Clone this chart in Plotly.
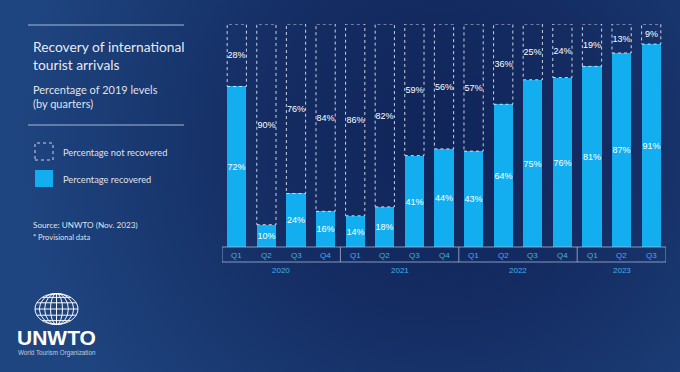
import base64
import plotly.graph_objects as go

# ---- data ----
quarters = ["Q1", "Q2", "Q3", "Q4", "Q1", "Q2", "Q3", "Q4", "Q1", "Q2", "Q3", "Q4", "Q1", "Q2", "Q3"]
years = ["2020", "2021", "2022", "2023"]
year_counts = [4, 4, 4, 3]
recovered = [72, 10, 24, 16, 14, 18, 41, 44, 43, 64, 75, 76, 81, 87, 91]
not_recovered = [28, 90, 76, 84, 86, 82, 59, 56, 57, 36, 25, 24, 19, 13, 9]

W, H = 680, 372
L, R, T, B = 222, 14, 24, 125
PW, PH = W - L - R, H - T - B


def px(x):
    return (x - L) / PW


def py(y):
    return (H - B - y) / PH


BLUE = "#12aeef"
idx = list(range(len(quarters)))
bw = 0.65
LBL = dict(color="white", size=9, family="Liberation Sans")

fig = go.Figure()
fig.add_trace(go.Bar(
    x=idx, y=recovered, width=bw, marker=dict(color=BLUE, line=dict(width=0)),
    text=[f"{v}%" for v in recovered], textposition="inside", insidetextanchor="middle",
    textangle=0, constraintext="none", textfont=LBL, cliponaxis=False,
    hoverinfo="skip", showlegend=False))
fig.add_trace(go.Bar(
    x=idx, y=not_recovered, base=recovered, width=bw,
    marker=dict(color="rgba(0,0,0,0)", line=dict(width=0)),
    text=[f"{v}%" for v in not_recovered], textposition="inside", insidetextanchor="middle",
    textangle=0, constraintext="none", textfont=LBL, cliponaxis=False,
    hoverinfo="skip", showlegend=False))

shapes = []
# dashed outlines of the not-recovered parts
for i, (r, n) in enumerate(zip(recovered, not_recovered)):
    shapes.append(dict(type="rect", xref="x", yref="y", x0=i - bw / 2, x1=i + bw / 2,
                       y0=r, y1=r + n, line=dict(color="rgba(235,240,250,0.85)", width=1, dash="dot")))

# axis label box
box_col = "rgba(170,190,220,0.75)"
yb0 = py(262)
shapes.append(dict(type="rect", xref="x", yref="paper", x0=-0.5, x1=len(quarters) - 0.5,
                   y0=yb0, y1=0, line=dict(color=box_col, width=1)))
annotations = []
start = 0
for yr, c in zip(years, year_counts):
    if start > 0:
        shapes.append(dict(type="line", xref="x", yref="paper", x0=start - 0.5, x1=start - 0.5,
                           y0=yb0, y1=0, line=dict(color=box_col, width=1)))
    annotations.append(dict(x=start + (c - 1) / 2, y=py(270), xref="x", yref="paper", text=yr,
                            showarrow=False, yanchor="middle",
                            font=dict(size=8, color="#45afe8", family="Liberation Sans")))
    start += c
for i, q in enumerate(quarters):
    annotations.append(dict(x=i, y=py(255), xref="x", yref="paper", text=q, showarrow=False, yanchor="middle",
                            font=dict(size=8, color="#45afe8", family="Liberation Sans")))

# left panel lines
for yy in (25, 125):
    shapes.append(dict(type="line", xref="paper", yref="paper", x0=px(28), x1=px(184), y0=py(yy), y1=py(yy),
                       line=dict(color="rgba(200,215,240,0.8)", width=1)))

TXT = "Lato, Open Sans, sans-serif"
annotations.append(dict(x=px(31), y=py(36), xref="paper", yref="paper", xanchor="left", yanchor="top",
                        align="left", showarrow=False, text="Recovery of international<br>tourist arrivals",
                        font=dict(size=13.8, color="rgba(255,255,255,0.92)", family=TXT)))
annotations.append(dict(x=px(31), y=py(81), xref="paper", yref="paper", xanchor="left", yanchor="top",
                        align="left", showarrow=False, text="Percentage of 2019 levels<br>(by quarters)",
                        font=dict(size=11, color="rgba(255,255,255,0.88)", family=TXT)))
# legend
shapes.append(dict(type="rect", xref="paper", yref="paper", x0=px(35), x1=px(53), y0=py(160), y1=py(143),
                   line=dict(color="rgba(235,240,250,0.85)", width=1, dash="dot")))
shapes.append(dict(type="rect", xref="paper", yref="paper", x0=px(35), x1=px(53), y0=py(187), y1=py(170),
                   fillcolor=BLUE, line=dict(width=0)))
annotations.append(dict(x=px(61), y=py(152), xref="paper", yref="paper", xanchor="left", yanchor="middle",
                        showarrow=False, text="Percentage not recovered",
                        font=dict(size=9.3, color="rgba(255,255,255,0.88)", family=TXT)))
annotations.append(dict(x=px(61), y=py(179), xref="paper", yref="paper", xanchor="left", yanchor="middle",
                        showarrow=False, text="Percentage recovered",
                        font=dict(size=9.3, color="rgba(255,255,255,0.88)", family=TXT)))
annotations.append(dict(x=px(31), y=py(225), xref="paper", yref="paper", xanchor="left", yanchor="middle",
                        showarrow=False, text="Source: UNWTO (Nov. 2023)",
                        font=dict(size=8.2, color="rgba(255,255,255,0.88)", family=TXT)))
annotations.append(dict(x=px(31), y=py(237), xref="paper", yref="paper", xanchor="left", yanchor="middle",
                        showarrow=False, text="* Provisional data",
                        font=dict(size=7.5, color="rgba(255,255,255,0.88)", family=TXT)))

# logo globe
gcx, gcy, grx, gry = 56.5, 309, 21.5, 15.5
lw = dict(color="rgba(255,255,255,0.95)", width=1)
shapes.append(dict(type="circle", xref="paper", yref="paper", x0=px(gcx - grx), x1=px(gcx + grx),
                   y0=py(gcy + gry), y1=py(gcy - gry), line=lw))
for k in (0.28, 0.55, 0.8):
    shapes.append(dict(type="circle", xref="paper", yref="paper", x0=px(gcx - grx * k), x1=px(gcx + grx * k),
                       y0=py(gcy + gry), y1=py(gcy - gry), line=lw))
shapes.append(dict(type="line", xref="paper", yref="paper", x0=px(gcx), x1=px(gcx),
                   y0=py(gcy + gry), y1=py(gcy - gry), line=lw))
for f in (-0.75, -0.4, 0.0, 0.4, 0.75):
    half = grx * (1 - f * f) ** 0.5
    shapes.append(dict(type="line", xref="paper", yref="paper", x0=px(gcx - half), x1=px(gcx + half),
                       y0=py(gcy + f * gry), y1=py(gcy + f * gry), line=lw))
annotations.append(dict(x=px(56.5), y=py(337), xref="paper", yref="paper", xanchor="center", yanchor="middle",
                        showarrow=False, text="<b>UNWTO</b>",
                        font=dict(size=21, color="white", family="Liberation Sans Narrow, Arial Narrow, Liberation Sans")))
annotations.append(dict(x=px(56.5), y=py(353), xref="paper", yref="paper", xanchor="center", yanchor="middle",
                        showarrow=False, text="World Tourism Organization",
                        font=dict(size=6.3, color="rgba(220,228,240,0.85)", family="Liberation Sans")))

# background gradient
svg = f'''<svg xmlns="http://www.w3.org/2000/svg" width="{W}" height="{H}" viewBox="0 0 {W} {H}">
<defs><radialGradient id="g" gradientUnits="userSpaceOnUse" cx="440" cy="140" r="430">
<stop offset="0" stop-color="#10255a"/><stop offset="0.4" stop-color="#142c62"/>
<stop offset="1" stop-color="#1f4580"/></radialGradient></defs>
<rect width="{W}" height="{H}" fill="url(#g)"/></svg>'''
src = "data:image/svg+xml;base64," + base64.b64encode(svg.encode()).decode()

fig.update_layout(
    width=W, height=H, margin=dict(l=L, r=R, t=T, b=B),
    paper_bgcolor="#173468", plot_bgcolor="rgba(0,0,0,0)",
    barmode="overlay", bargap=0,
    xaxis=dict(range=[-0.5, len(quarters) - 0.5], visible=False, fixedrange=True),
    yaxis=dict(range=[0, 100], visible=False, fixedrange=True),
    shapes=shapes, annotations=annotations,
    images=[dict(source=src, xref="paper", yref="paper", x=px(0), y=py(0), sizex=W / PW, sizey=H / PH,
                 sizing="stretch", xanchor="left", yanchor="top", layer="below")],
    showlegend=False,
)
fig.write_html("out.html", config={"displayModeBar": False})
